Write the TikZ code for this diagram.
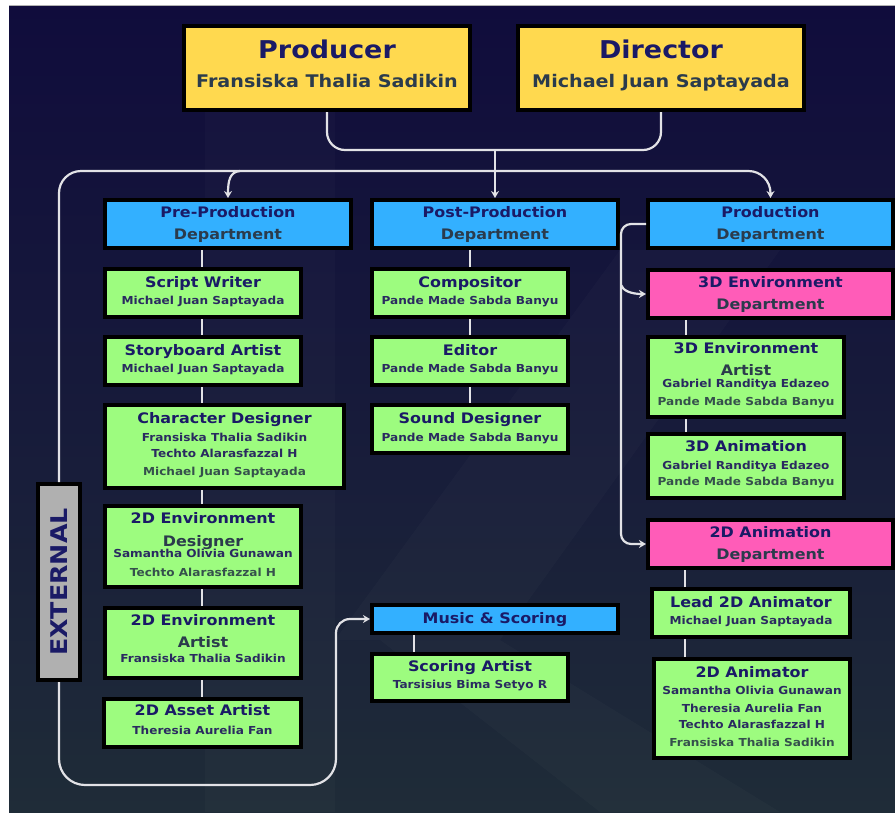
\documentclass[tikz,border=0pt]{standalone}
\usepackage{fontspec}
\usepackage{graphicx}
\setmainfont[FakeStretch=1.1]{DejaVu Sans}
\usetikzlibrary{arrows.meta,calc}
\definecolor{bgtop}{HTML}{100C3C}
\definecolor{bgbot}{HTML}{1F2C38}
\definecolor{cyellow}{HTML}{FFD94F}
\definecolor{cblue}{HTML}{33B0FF}
\definecolor{cgreen}{HTML}{9DFC7F}
\definecolor{cpink}{HTML}{FF5CB8}
\definecolor{cgray}{HTML}{B0B0B0}
\definecolor{tnavy}{HTML}{1A1A66}
\definecolor{tdark}{HTML}{2B3B4C}
\definecolor{tname}{HTML}{2A2A60}
\definecolor{tfade}{HTML}{35504C}
\definecolor{wirecol}{HTML}{E2E2E6}
\newdimen\cyd
\newcommand{\Ln}[4]{\hbox to 0pt{\hss\raisebox{\dimexpr\cyd-#1pt\relax}[0pt][0pt]{\color{#2}\fontsize{#3}{#3}\bfseries\selectfont #4}\hss}}
\newcommand{\Ti}[3][tnavy]{\Ln{#2}{#1}{14.5}{#3}}
\newcommand{\Na}[3][tname]{\Ln{#2}{#1}{11}{#3}}
\newcommand{\bx}[7]{%
  \cyd=\dimexpr(#4pt+#6pt)/2\relax
  \node[#2,minimum width={(#5-#3-4)*1pt},minimum height={(#6-#4-4)*1pt}] (#1) at ({(#3+#5)/2},{(#4+#6)/2}) {\hbox to 0pt{\hss\hbox to 0pt{\hss#7\hss}\hss}};}
\tikzset{
  card/.style={draw=black,line width=4pt,inner sep=0pt,outer sep=2pt,rectangle},
  lead/.style={card,fill=cyellow},
  dept/.style={card,fill=cblue},
  sub/.style={card,fill=cpink},
  role/.style={card,fill=cgreen},
  ext/.style={card,fill=cgray},
  wire/.style={draw=wirecol,line width=2.2pt},
  wirearrow/.style={wire,-{Stealth[length=7pt,width=8pt]}},
}
\begin{document}
\begin{tikzpicture}[x=1pt,y=-1pt]
\useasboundingbox (0,0) rectangle (895,812);
\fill[white] (0,0) rectangle (895,812);
\shade[top color=bgtop,bottom color=bgbot,middle color=bgtop!55!bgbot] (9,5) rectangle (895,812);
\fill[white,opacity=0.02] (205,110) rectangle (335,812);
\fill[white,opacity=0.02] (335,640) -- (620,250) -- (780,250) -- (500,640) -- cycle;
\fill[white,opacity=0.02] (380,640) -- (600,812) -- (780,812) -- (500,640) -- cycle;
\draw[gray!60!white,line width=1pt] (9,5) -- (895,5);

\bx{producer}{lead}{182}{24}{472}{112}{\Ln{58}{tnavy}{24.5}{Producer}\Ln{87}{tdark}{17.4}{Fransiska Thalia Sadikin}}
\bx{director}{lead}{516}{24}{806}{112}{\Ln{58}{tnavy}{24.5}{Director}\Ln{87}{tdark}{17.4}{Michael Juan Saptayada}}

\bx{pre}{dept}{103}{198}{353}{250}{\Ti{217}{Pre-Production}\Ti[tdark]{239}{Department}}
\bx{post}{dept}{370}{198}{620}{250}{\Ti{217}{Post-Production}\Ti[tdark]{239}{Department}}
\bx{prodn}{dept}{646}{198}{895}{250}{\Ti{217}{Production}\Ti[tdark]{239}{Department}}

\bx{script}{role}{103}{267}{303}{319}{\Ti{287}{Script Writer}\Na{304}{Michael Juan Saptayada}}
\bx{story}{role}{103}{335}{303}{387}{\Ti{355}{Storyboard Artist}\Na{372}{Michael Juan Saptayada}}
\bx{chara}{role}{103}{403}{346}{490}{\Ti{423}{Character Designer}\Na{441}{Fransiska Thalia Sadikin}\Na{457}{Techto Alarasfazzal H}\Na[tfade]{475}{Michael Juan Saptayada}}
\bx{envd}{role}{103}{504}{303}{589}{\Ti{523}{2D Environment}\Ti[tdark]{546}{Designer}\Na{557}{Samantha Olivia Gunawan}\Na[tfade]{576}{Techto Alarasfazzal H}}
\bx{enva}{role}{103}{606}{303}{680}{\Ti{625}{2D Environment}\Ti[tdark]{647}{Artist}\Na{662}{Fransiska Thalia Sadikin}}
\bx{asset}{role}{102}{697}{303}{749}{\Ti{715}{2D Asset Artist}\Na{734}{Theresia Aurelia Fan}}

\bx{compo}{role}{370}{267}{570}{319}{\Ti{287}{Compositor}\Na{304}{Pande Made Sabda Banyu}}
\bx{editor}{role}{370}{335}{570}{387}{\Ti{355}{Editor}\Na{372}{Pande Made Sabda Banyu}}
\bx{sound}{role}{370}{403}{570}{455}{\Ti{423}{Sound Designer}\Na{441}{Pande Made Sabda Banyu}}

\bx{music}{dept}{370}{603}{620}{635}{\Ti{623}{Music \& Scoring}}
\bx{scoring}{role}{370}{652}{570}{703}{\Ti{671}{Scoring Artist}\Na{688}{Tarsisius Bima Setyo R}}

\bx{envdept}{sub}{646}{268}{895}{320}{\Ti{287}{3D Environment}\Ti[tdark]{309}{Department}}
\bx{enva3}{role}{646}{335}{846}{419}{\Ti{353}{3D Environment}\Ti[tdark]{375}{Artist}\Na{387}{Gabriel Randitya Edazeo}\Na[tfade]{405}{Pande Made Sabda Banyu}}
\bx{anim3}{role}{646}{432}{846}{500}{\Ti{451}{3D Animation}\Na{469}{Gabriel Randitya Edazeo}\Na[tfade]{485}{Pande Made Sabda Banyu}}
\bx{animdept}{sub}{646}{518}{895}{570}{\Ti{537}{2D Animation}\Ti[tdark]{559}{Department}}
\bx{leadan}{role}{650}{587}{852}{639}{\Ti{607}{Lead 2D Animator}\Na{624}{Michael Juan Saptayada}}
\bx{animtwo}{role}{652}{657}{852}{760}{\Ti{677}{2D Animator}\Na{694}{Samantha Olivia Gunawan}\Na{712}{Theresia Aurelia Fan}\Na{728}{Techto Alarasfazzal H}\Na[tfade]{746}{Fransiska Thalia Sadikin}}

\node[ext,minimum width=42pt,minimum height=196pt] (external) at (59,582) {\rotatebox{90}{\color{tnavy}\fontsize{23}{23}\bfseries\selectfont EXTERNAL}};

\coordinate (joinlow) at (495,150);
\coordinate (busy) at (495,171);
\coordinate (preout) at (240,171);
\coordinate (lowbus) at (200,785);
\coordinate (lowcorner) at (336,785);
\coordinate (musicin) at (336,619);
\coordinate (side) at (621,400);
\coordinate (sidebranch) at (621,285);

\draw[wire,rounded corners=18pt] (producer.south) |- (joinlow) -| (director.south);
\draw[wirearrow] (joinlow) -- (post.north);
\draw[wirearrow,rounded corners=22pt] (external.north) |- (busy) -| (prodn.north);
\draw[wirearrow] (preout) .. controls (230,172) and (228,180) .. (pre.north);
\draw[wirearrow,rounded corners=26pt] (external.south) |- (lowbus) -- (lowcorner) [rounded corners=14pt] -- (musicin) -- (music.west);
\draw[wirearrow,rounded corners=10pt] (prodn.west) -| (side) |- (animdept.west);
\draw[wirearrow] (sidebranch) .. controls (623,291) and (632,294) .. (envdept.west);

\foreach \a/\b in {script/pre,story/script,chara/story,envd/chara,enva/envd,asset/enva}
  \draw[wire] (202,0 |- \a.north) -- (202,0 |- \b.south);
\foreach \a/\b in {compo/post,editor/compo,sound/editor}
  \draw[wire] (470,0 |- \a.north) -- (470,0 |- \b.south);
\draw[wire] (414,0 |- scoring.north) -- (414,0 |- music.south);
\foreach \a/\b in {enva3/envdept,anim3/enva3}
  \draw[wire] (686,0 |- \a.north) -- (686,0 |- \b.south);
\foreach \a/\b in {leadan/animdept,animtwo/leadan}
  \draw[wire] (685,0 |- \a.north) -- (685,0 |- \b.south);
\end{tikzpicture}
\end{document}
